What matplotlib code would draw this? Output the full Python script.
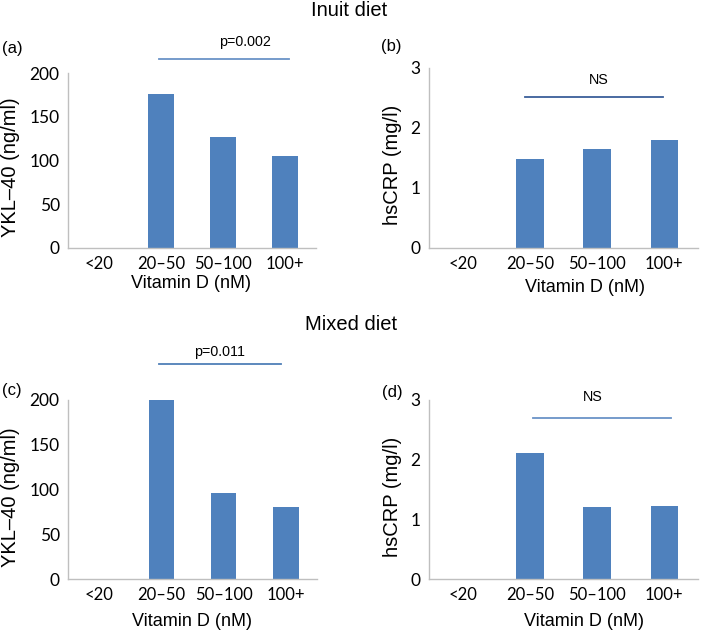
import matplotlib
matplotlib.use("Agg")
import matplotlib.pyplot as plt
import numpy as np

categories = ["<20", "20–50", "50–100", "100+"]
ykl_inuit = [np.nan, 176, 127, 105]
crp_inuit = [np.nan, 1.49, 1.65, 1.80]
ykl_mixed = [np.nan, 200, 96, 81]
crp_mixed = [np.nan, 2.11, 1.21, 1.23]
ykl_ticks = [0, 50, 100, 150, 200]
crp_ticks = [0, 1, 2, 3]

W, H = 703, 633
fig = plt.figure(figsize=(W / 100, H / 100), dpi=100)

BAR = "#4F81BD"
SPINE = "#BFBFBF"
LAB = "Liberation Sans"
TICKF = "Lato"


def px_axes(x0, x1, ytop, ybot):
    return fig.add_axes([x0 / W, 1 - ybot / H, (x1 - x0) / W, (ybot - ytop) / H])


def panel(ax, vals, ticks, ymax, sig_x, sig_y, txt, txt_x, txt_y, lcolor):
    x = np.arange(len(categories))
    ax.bar(x, vals, width=0.41, color=BAR, zorder=2)
    ax.set_xlim(-0.5, len(categories) - 0.5)
    ax.set_ylim(0, ymax)
    ax.set_yticks(ticks)
    ax.set_xticks(x)
    ax.set_xticklabels(categories, fontsize=12, family=TICKF)
    ax.set_yticklabels([str(t) for t in ticks], fontsize=12.5, family=TICKF)
    ax.tick_params(length=0, pad=6)
    for s in ["top", "right"]:
        ax.spines[s].set_visible(False)
    for s in ["left", "bottom"]:
        ax.spines[s].set_color(SPINE)
        ax.spines[s].set_linewidth(1.0)
    ax.plot(sig_x, [sig_y, sig_y], color=lcolor, lw=1.3, clip_on=False)
    ax.text(txt_x, txt_y, txt, ha="center", va="center", fontsize=10.3, family=LAB, clip_on=False)


axA = px_axes(68, 316, 73, 248)
panel(axA, ykl_inuit, ykl_ticks, 200, [0.97, 3.06], 216, "p=0.002", 2.35, 235, "#6A93C7")
axB = px_axes(429, 698, 68, 248)
panel(axB, crp_inuit, crp_ticks, 3, [0.93, 2.98], 2.51, "NS", 2.02, 2.8, "#3A5F9A")
axC = px_axes(68, 317, 400, 579)
panel(axC, ykl_mixed, ykl_ticks, 200, [0.96, 2.92], 240, "p=0.011", 1.94, 254, "#4F7FB8")
axD = px_axes(429, 698, 400, 579)
panel(axD, crp_mixed, crp_ticks, 3, [1.04, 3.1], 2.70, "NS", 1.93, 3.05, "#6A93C7")


def ftext(xp, yp, s, **kw):
    fig.text(xp / W, 1 - yp / H, s, ha="center", va="center", family=LAB, **kw)


ftext(349, 10, "Inuit diet", fontsize=14.5)
ftext(351, 324, "Mixed diet", fontsize=14.5)

ftext(12, 49, "(a)", fontsize=12)
ftext(391, 47, "(b)", fontsize=12)
ftext(12, 391, "(c)", fontsize=12)
ftext(392, 392, "(d)", fontsize=12)

ftext(191, 283, "Vitamin D (nM)", fontsize=13)
ftext(585, 287, "Vitamin D (nM)", fontsize=13)
ftext(192, 622, "Vitamin D (nM)", fontsize=13)
ftext(584, 622, "Vitamin D (nM)", fontsize=13)

ftext(11, 167, "YKL–40 (ng/ml)", fontsize=14.5, rotation=90)
ftext(392, 165, "hsCRP (mg/l)", fontsize=14.5, rotation=90)
ftext(11, 497, "YKL–40 (ng/ml)", fontsize=14.5, rotation=90)
ftext(392, 497, "hsCRP (mg/l)", fontsize=14.5, rotation=90)

fig.savefig("out.png", dpi=100)
